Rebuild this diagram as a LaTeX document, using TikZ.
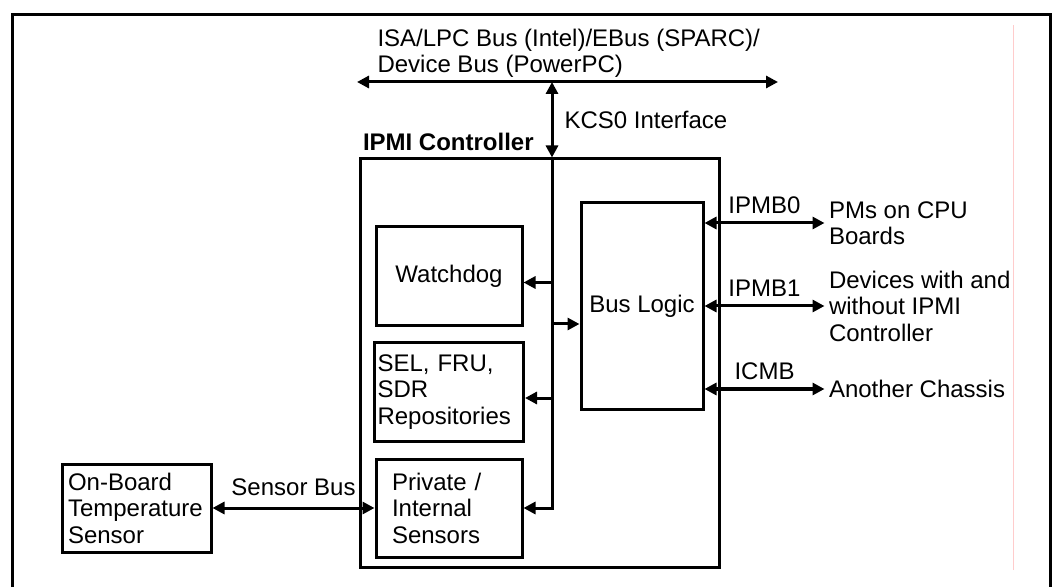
\documentclass[tikz,border=0pt]{standalone}
\usepackage{fontspec}
\setmainfont{Liberation Sans}
\usetikzlibrary{
  positioning,
  arrows.meta
}

\begin{document}
\begin{tikzpicture}[x=1pt, y=1pt, line width=3pt,
    font=\fontsize{24}{26.5}\selectfont,
    >={Triangle[length=12pt,width=12pt]},
    blk/.style={draw, inner sep=3pt},
    txt/.style={inner sep=3pt, align=left},
    lbl/.style={inner sep=3pt, above=5pt}]
    \useasboundingbox (0,0) rectangle (1063,587);
    \draw (12,0) -- (12,572) -- (1050,572) -- (1050,0);
    \draw[red!20, line width=1pt] (1013,17) -- (1013,562);

    \coordinate (busL) at (357,505);
    \coordinate (busR) at (778,505);
    \coordinate (kcs) at (552,505);

    \node[blk, minimum width=359pt, minimum height=408pt] (ipmi) at (539.5,224) {};
    \node[txt, anchor=south west, above right=2pt and 0pt of ipmi.north west] (ipmit) {\textbf{IPMI Controller}};
    \node[blk, minimum width=122pt, minimum height=206pt] (bl) at (642,281) {Bus Logic};
    \node[blk, minimum width=146pt, minimum height=99pt] (wd) at (449,310.5) {Watchdog};
    \node[blk, below=14pt of wd, inner xsep=3pt, text width=143pt, minimum height=98pt, align=left] (sel) {SEL, FRU,\\SDR\\Repositories};
    \node[blk, below=15pt of sel, inner xsep=16pt, text width=114pt, minimum height=98pt, align=left] (priv) {Private /\\Internal\\Sensors};
    \node[blk, left=162pt of priv, inner xsep=6pt, text width=137pt, minimum height=88pt, align=left] (ob) {On-Board\\Temperature\\Sensor};

    \node[txt, above right=0pt and 16pt of busL] (busn) {ISA/LPC Bus (Intel)/EBus (SPARC)/\\Device Bus (PowerPC)};
    \node[txt, right=120pt of bl.east, yshift=83pt] (pm) {PMs on CPU\\Boards};
    \node[txt, right=120pt of bl.east] (dev) {Devices with and\\without IPMI\\Controller};
    \node[txt, right=120pt of bl.east, yshift=-83pt] (ch) {Another Chassis};

    \coordinate (wdin) at ([yshift=-6pt]wd.east);
    \coordinate (selin) at ([yshift=-6pt]sel.east);
    \coordinate (blin) at ([yshift=-18pt]bl.west);

    \draw[<->] (busL) -- (busR);
    \draw[<->] (kcs) -- node[txt, right=8pt] {KCS0 Interface} (kcs |- ipmi.north);
    \draw[->] (kcs |- ipmi.north) |- (priv.east);
    \draw[->] (kcs |- wdin) -- (wdin);
    \draw[->] (kcs |- selin) -- (selin);
    \draw[->] (kcs |- blin) -- (blin);
    \draw[<->] (ob) -- node[inner sep=3pt, above=8pt] {Sensor Bus} (priv);
    \draw[<->] (bl.east |- pm) -- node[lbl] {IPMB0} (pm);
    \draw[<->] (bl.east |- dev) -- node[lbl] {IPMB1} (dev);
    \draw[<->] (bl.east |- ch) -- node[lbl] {ICMB} (ch);
\end{tikzpicture}
\end{document}
